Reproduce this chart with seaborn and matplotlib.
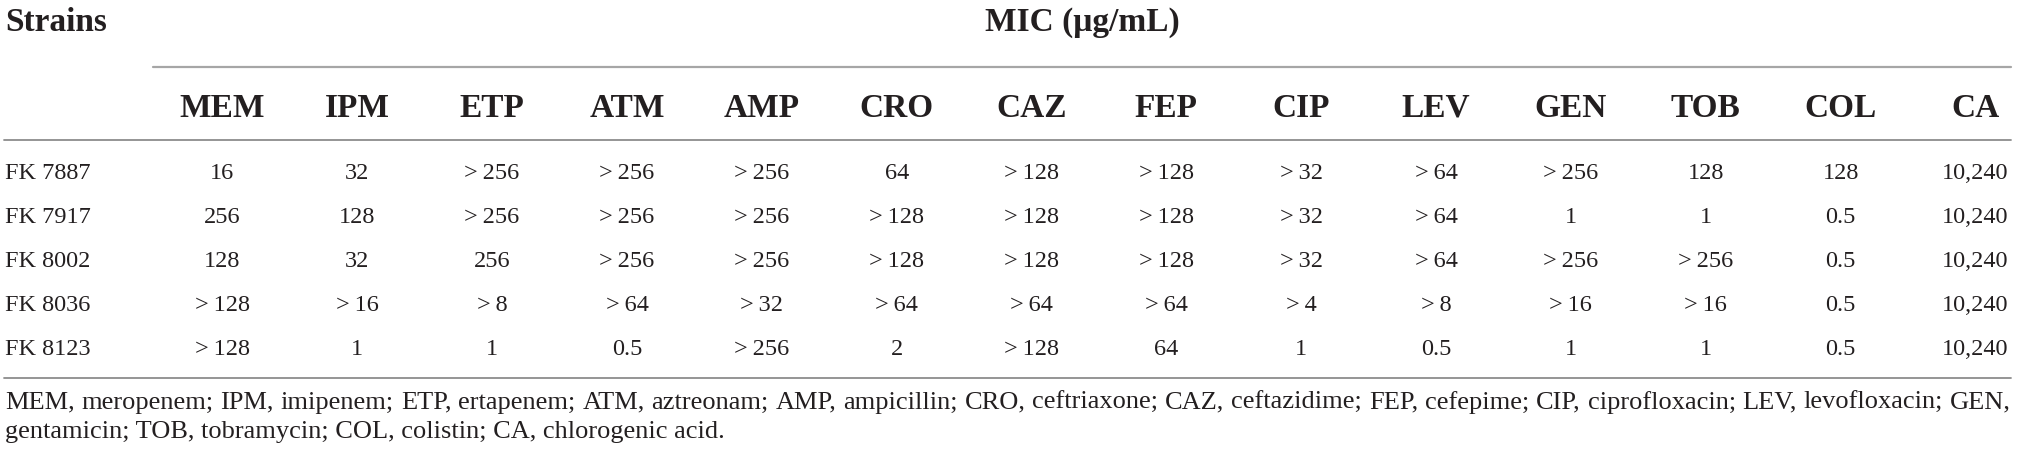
import numpy as np
import matplotlib
matplotlib.use("Agg")
import matplotlib.pyplot as plt
import matplotlib.transforms as mtransforms
from matplotlib.colors import ListedColormap
import seaborn as sns

# table content
strains = ["FK 7887", "FK 7917", "FK 8002", "FK 8036", "FK 8123"]
drugs = ["MEM", "IPM", "ETP", "ATM", "AMP", "CRO", "CAZ",
         "FEP", "CIP", "LEV", "GEN", "TOB", "COL", "CA"]
mic_fk7887 = ["16", "32", ">256", ">256", ">256", "64", ">128",
              ">128", ">32", ">64", ">256", "128", "128", "10,240"]
mic_fk7917 = ["256", "128", ">256", ">256", ">256", ">128", ">128",
              ">128", ">32", ">64", "1", "1", "0.5", "10,240"]
mic_fk8002 = ["128", "32", "256", ">256", ">256", ">128", ">128",
              ">128", ">32", ">64", ">256", ">256", "0.5", "10,240"]
mic_fk8036 = [">128", ">16", ">8", ">64", ">32", ">64", ">64",
              ">64", ">4", ">8", ">16", ">16", "0.5", "10,240"]
mic_fk8123 = [">128", "1", "1", "0.5", ">256", "2", ">128",
              "64", "1", "0.5", "1", "1", "0.5", "10,240"]
header_left = "Strains"
header_group = "MIC (\u03bcg/mL)"
footnote = ["MEM, meropenem; IPM, imipenem; ETP, ertapenem; ATM, aztreonam; AMP, ampicillin; "
            "CRO, ceftriaxone; CAZ, ceftazidime; FEP, cefepime; CIP, ciprofloxacin; LEV, levofloxacin; GEN,",
            "gentamicin; TOB, tobramycin; COL, colistin; CA, chlorogenic acid."]

# thin gap after the ">" sign, as in the typeset table
mic_table = np.array([[v.replace(">", ">\u2009") for v in row]
                      for row in [mic_fk7887, mic_fk7917, mic_fk8002, mic_fk8036, mic_fk8123]])

sns.set_theme(style="white")
plt.rcParams['font.family'] = ['Liberation Serif', 'DejaVu Serif']

INK = "#231f20"
W, H = 2019, 461
col_w = 134.85

fig = plt.figure(figsize=(W / 100, H / 100), dpi=100)
ax = fig.add_axes([155 / W, (H - 371) / H, len(drugs) * col_w / W, 219 / H])

sns.heatmap(np.zeros(mic_table.shape), annot=mic_table, fmt="",
            cmap=ListedColormap(["white"]), cbar=False,
            xticklabels=False, yticklabels=False,
            annot_kws=dict(fontsize=17.5, color=INK), ax=ax)
ax.set_axis_off()

left = mtransforms.blended_transform_factory(fig.transFigure, ax.transData)

# column headers
for i, d in enumerate(drugs):
    ax.text(i + 0.5, -1.0, d, ha="center", va="center",
            fontsize=24, fontweight="bold", color=INK)

# row labels
for j, s in enumerate(strains):
    ax.text(5 / W, j + 0.5, s, transform=left, ha="left", va="center",
            fontsize=17.5, color=INK)

ax.text(5 / W, -2.95, header_left, transform=left, ha="left", va="center",
        fontsize=24, fontweight="bold", color=INK)
ax.text(1082 / W, -2.95, header_group, transform=left, ha="center", va="center",
        fontsize=24, fontweight="bold", color=INK)

# rules
ax.plot([153 / W, 2011 / W], [-1.94, -1.94], transform=left, clip_on=False,
        color="#a6a6a6", lw=1.6)
ax.plot([4 / W, 2011 / W], [-0.27, -0.27], transform=left, clip_on=False,
        color="#8c8c8c", lw=1.3)
ax.plot([4 / W, 2011 / W], [5.17, 5.17], transform=left, clip_on=False,
        color="#8c8c8c", lw=1.3)

# footnote: first line justified to the table width, last line left aligned
renderer = fig.canvas.get_renderer()
x0, x1 = 5 / W, 2011 / W
for k, line in enumerate(footnote):
    y = 5.72 + 0.68 * k
    if k == len(footnote) - 1:
        ax.text(x0, y, line, transform=left, ha="left", va="center",
                fontsize=19, color=INK)
        continue
    words = line.split(" ")
    texts = [ax.text(0, y, w, transform=left, ha="left", va="center",
                     fontsize=19, color=INK) for w in words]
    widths = [t.get_window_extent(renderer).width / (W * fig.dpi / 100) for t in texts]
    gap = (x1 - x0 - sum(widths)) / (len(words) - 1)
    x = x0
    for t, wd in zip(texts, widths):
        t.set_x(x)
        x += wd + gap

fig.savefig("out.png", dpi=100)
